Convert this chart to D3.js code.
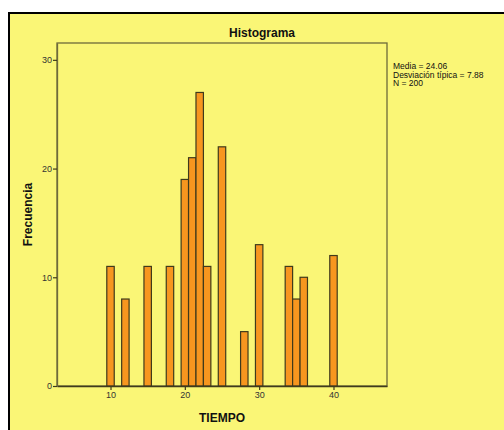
<!DOCTYPE html>
<html>
<head>
<meta charset="utf-8">
<script src="https://cdn.jsdelivr.net/npm/d3@7"></script>
<style>
  html, body { margin: 0; padding: 0; background: #ffffff; }
  svg { display: block; }
</style>
</head>
<body>
<svg id="chart" width="504" height="430"></svg>
<script>
// Data
const binCenters = [10, 12, 15, 18, 20, 21, 22, 23, 25, 28, 30, 34, 35, 36, 40];
const frequencies = [11, 8, 11, 11, 19, 21, 27, 11, 22, 5, 13, 11, 8, 10, 12];
const xTicks = [10, 20, 30, 40];
const yTicks = [0, 10, 20, 30];
const statsLines = ["Media = 24.06", "Desviación típica = 7.88", "N = 200"];
const titleText = "Histograma";
const xLabel = "TIEMPO";
const yLabel = "Frecuencia";

const svg = d3.select("#chart");
const W = 504, H = 430;

// Outer panel
svg.append("rect").attr("x", 9).attr("y", 13).attr("width", W).attr("height", H)
  .attr("fill", "#faf676").attr("stroke", "none");
svg.append("line").attr("x1", 9).attr("x2", 9).attr("y1", 12).attr("y2", H)
  .attr("stroke", "#000").attr("stroke-width", 2);
svg.append("line").attr("x1", 8).attr("x2", W).attr("y1", 13).attr("y2", 13)
  .attr("stroke", "#000").attr("stroke-width", 2);

const plot = { left: 57, top: 43, right: 387, bottom: 386 };

const x = d3.scaleLinear().domain([2.8, 47.2]).range([plot.left, plot.right]);
const y = d3.scaleLinear().domain([0, 31.55]).range([plot.bottom, plot.top]);

// Plot frame
svg.append("rect")
  .attr("x", plot.left).attr("y", plot.top)
  .attr("width", plot.right - plot.left).attr("height", plot.bottom - plot.top)
  .attr("fill", "#faf676").attr("stroke", "#6e6a3a").attr("stroke-width", 1.3);

// Bars
svg.append("g").selectAll("rect").data(binCenters).join("rect")
  .attr("x", (d) => x(d - 0.5))
  .attr("y", (d, i) => y(frequencies[i]))
  .attr("width", (d) => x(d + 0.5) - x(d - 0.5))
  .attr("height", (d, i) => y(0) - y(frequencies[i]))
  .attr("fill", "#f7961f")
  .attr("stroke", "#3f3a1c")
  .attr("stroke-width", 1.2);

// Axes
const xAxis = d3.axisBottom(x).tickValues(xTicks).tickSize(4).tickSizeOuter(0).tickPadding(2);
const gx = svg.append("g").attr("transform", `translate(0,${plot.bottom})`).call(xAxis);
gx.select(".domain").attr("stroke", "#3f3a1c").attr("stroke-width", 1.3);
gx.selectAll(".tick line").attr("stroke", "#3f3a1c").attr("stroke-width", 1.2);
gx.selectAll(".tick text").attr("font-family", "Arial, 'Liberation Sans', sans-serif")
  .attr("font-size", 9).attr("fill", "#333");

const yAxis = d3.axisLeft(y).tickValues(yTicks).tickSize(4).tickSizeOuter(0).tickPadding(1);
const gy = svg.append("g").attr("transform", `translate(${plot.left},0)`).call(yAxis);
gy.select(".domain").attr("stroke", "#6e6a3a").attr("stroke-width", 1.3);
gy.selectAll(".tick line").attr("stroke", "#3f3a1c").attr("stroke-width", 1.2);
gy.selectAll(".tick text").attr("font-family", "Arial, 'Liberation Sans', sans-serif")
  .attr("font-size", 9).attr("fill", "#333");

// Title
svg.append("text").attr("x", 262).attr("y", 37).attr("text-anchor", "middle")
  .attr("font-family", "Arial, 'Liberation Sans', sans-serif").attr("font-weight", "bold")
  .attr("font-size", 12).attr("fill", "#111").text(titleText);

// X label
svg.append("text").attr("x", (plot.left + plot.right) / 2).attr("y", 422).attr("text-anchor", "middle")
  .attr("font-family", "Arial, 'Liberation Sans', sans-serif").attr("font-weight", "bold")
  .attr("font-size", 12).attr("fill", "#111").text(xLabel);

// Y label
svg.append("text").attr("transform", `translate(32,${(plot.top + plot.bottom) / 2}) rotate(-90)`)
  .attr("text-anchor", "middle")
  .attr("font-family", "Arial, 'Liberation Sans', sans-serif").attr("font-weight", "bold")
  .attr("font-size", 12).attr("fill", "#111").text(yLabel);

// Stats
svg.append("g").selectAll("text").data(statsLines).join("text")
  .attr("x", 393).attr("y", (d, i) => 69 + i * 8.5)
  .attr("font-family", "Arial, 'Liberation Sans', sans-serif")
  .attr("font-size", 8.5).attr("fill", "#111").text((d) => d);
</script>
</body>
</html>
